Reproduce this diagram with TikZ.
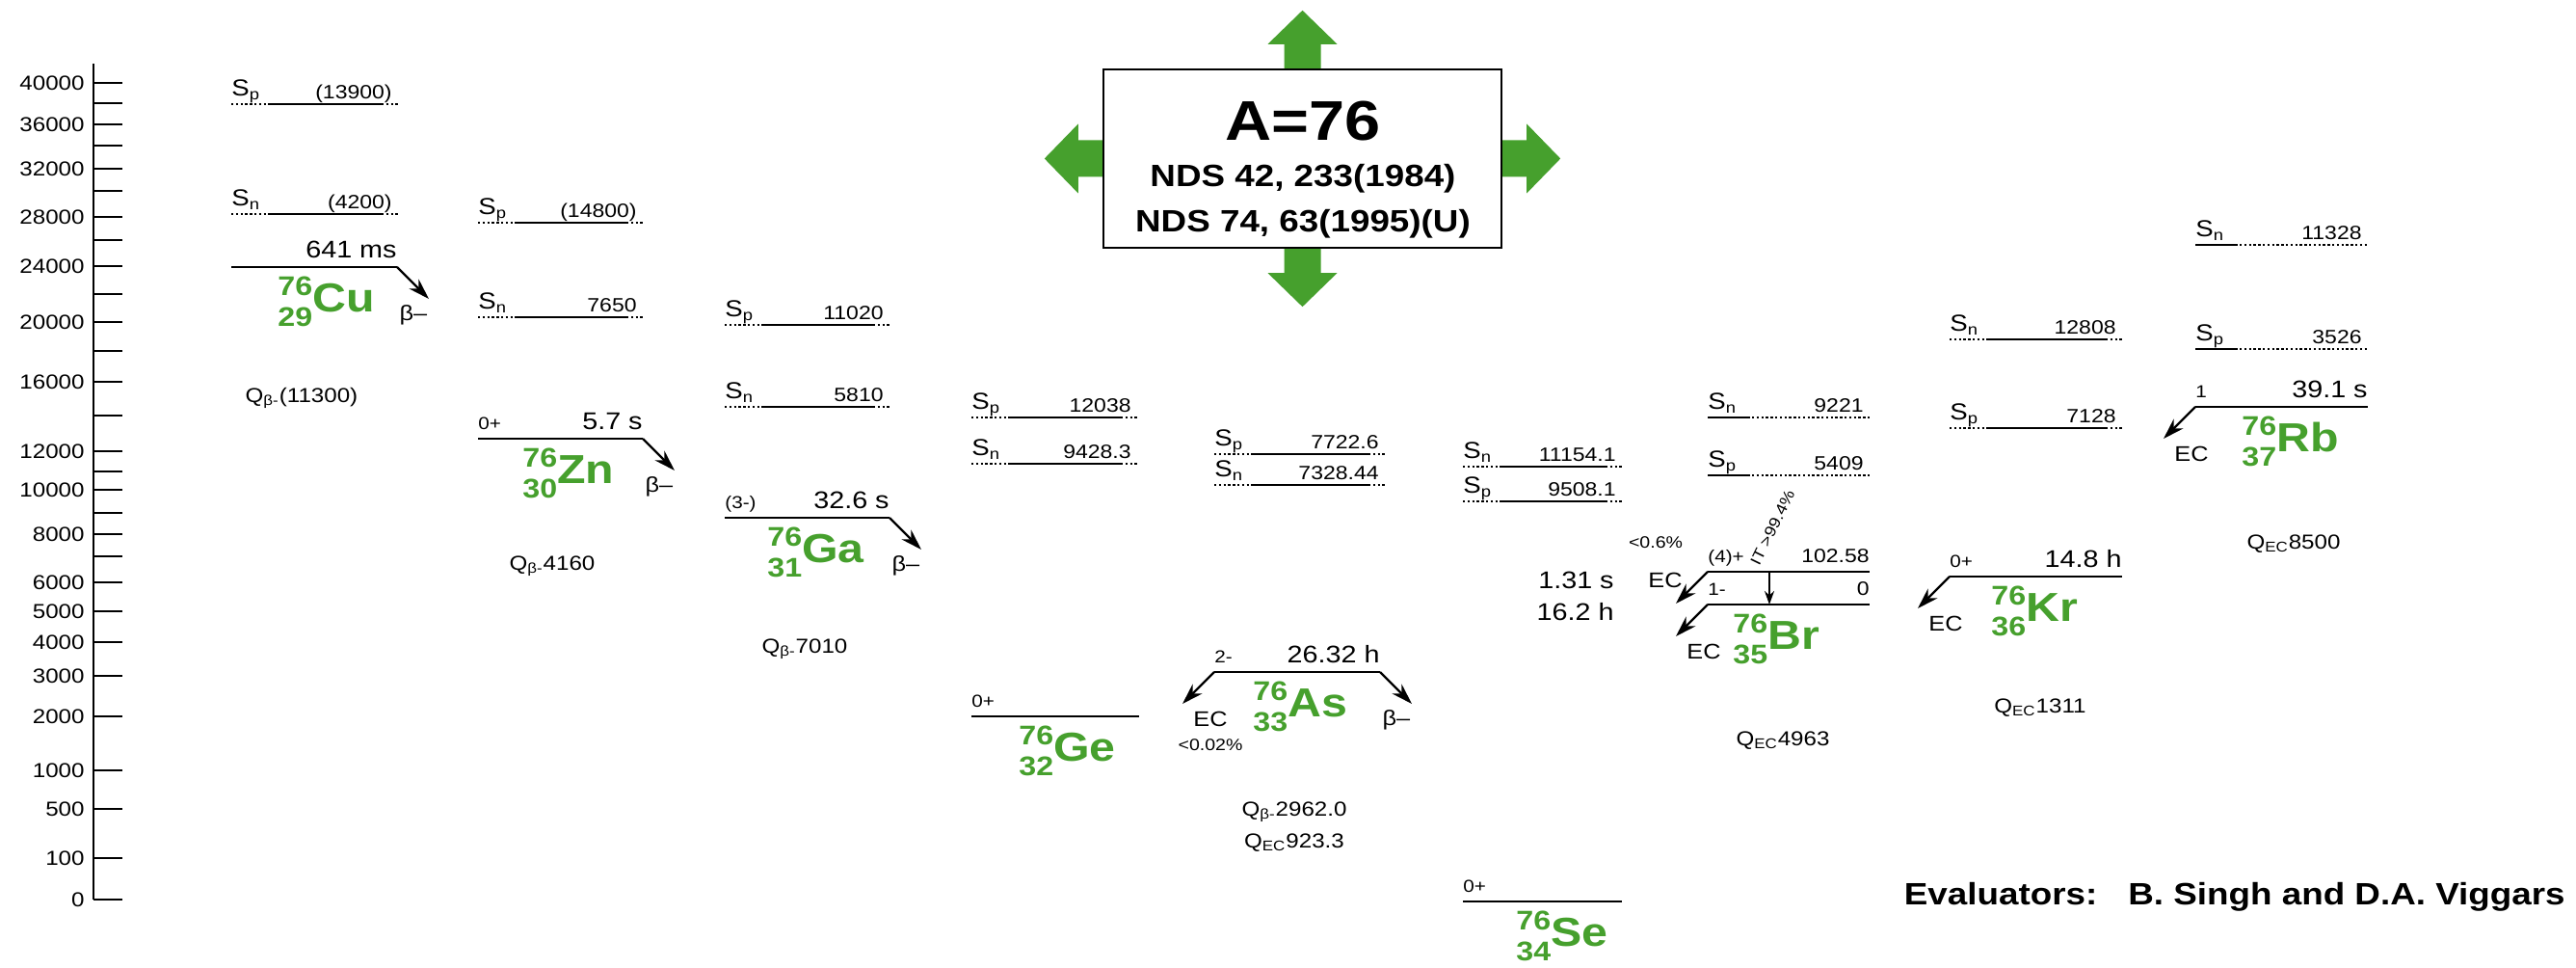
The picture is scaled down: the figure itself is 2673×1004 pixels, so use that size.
\documentclass[tikz,border=0pt]{standalone}
\usepackage{fontspec}
\setmainfont{Liberation Sans}[FakeStretch=1.15]
\usetikzlibrary{arrows.meta, calc}

\definecolor{nucgreen}{RGB}{70,160,45}

% nuclide symbol: mass and charge stacked in front of the element
\newcommand{\iso}[3]{{\fontsize{14}{16}\selectfont\begin{tabular}{@{}r@{}}#1\\#2\end{tabular}}{\fontsize{21}{21}\selectfont #3}}

% separation energy, dotted ends
\newcommand{\sepA}[6]{%
  \coordinate (#1-l) at (#2,#4);
  \coordinate (#1-r) at (#3,#4);
  \draw[sepdots] (#1-l) -- ($(#1-l)+(36,0)$);
  \draw[sepline] ($(#1-l)+(38,0)$) -- ($(#1-r)+(-17,0)$);
  \draw[sepdots] ($(#1-r)+(-17,0)$) -- (#1-r);
  \node[slab] (#1-s) at ($(#1-l)+(0,-8)$) {S\textsubscript{#5}};
  \node[sval] (#1-v) at ($(#1-r)+(-6,-5)$) {#6};}
% separation energy, dotted after the label
\newcommand{\sepB}[6]{%
  \coordinate (#1-l) at (#2,#4);
  \coordinate (#1-r) at (#3,#4);
  \draw[sepline] (#1-l) -- ($(#1-l)+(44,0)$);
  \draw[sepdots] ($(#1-l)+(46,0)$) -- (#1-r);
  \node[slab] (#1-s) at ($(#1-l)+(0,-8)$) {S\textsubscript{#5}};
  \node[sval] (#1-v) at ($(#1-r)+(-6,-5)$) {#6};}
% level with spin and half-life
\newcommand{\nuclev}[6]{%
  \coordinate (#1-l) at (#2,#4);
  \coordinate (#1-r) at (#3,#4);
  \draw[lev] (#1-l) -- (#1-r);
  \node[spin] (#1-j) at ($(#1-l)+(0,-9)$) {#5};
  \node[hlife] (#1-t) at ($(#1-r)+(0,-9)$) {#6};}

\tikzset{
  lev/.style={line width=1.3pt},
  sepline/.style={line width=1.1pt},
  sepdots/.style={line width=1.1pt, dash pattern=on 1.2pt off 1.2pt},
  decay/.style={line width=1.1pt, -{Stealth[length=11pt,width=7pt]}},
  axisl/.style={line width=1pt},
  slab/.style={inner sep=0pt, anchor=base west, font=\fontsize{12}{12}\selectfont},
  sval/.style={inner sep=0pt, anchor=base east, font=\fontsize{10}{10}\selectfont},
  spin/.style={inner sep=0pt, anchor=base west, font=\fontsize{9}{9}\selectfont},
  hlife/.style={inner sep=0pt, anchor=base east, font=\fontsize{12.5}{12.5}\selectfont},
  isolab/.style={inner sep=0pt, anchor=north west, text=nucgreen, font=\bfseries},
  mode/.style={inner sep=0pt, font=\fontsize{11}{11}\selectfont},
  pct/.style={inner sep=0pt, font=\fontsize{8.5}{8.5}\selectfont},
  qval/.style={inner sep=0pt, font=\fontsize{10.5}{10.5}\selectfont},
  axlab/.style={inner sep=0pt, anchor=east, font=\fontsize{10.5}{10.5}\selectfont},
}

\begin{document}
\begin{tikzpicture}[x=0.5pt, y=-0.5pt]
\useasboundingbox (0,0) rectangle (2673,1004);
\fill[white] (0,0) rectangle (2673,1004);

% energy axis
\draw[axisl] (97,66) -- (97,933);
\foreach \yy/\lab in {86/40000,129/36000,175/32000,225/28000,276/24000,334/20000,396/16000,468/12000,508/10000,554/8000,604/6000,634/5000,666/4000,701/3000,743/2000,799/1000,839/500,890/100,933/0}{
  \draw[axisl] (97,\yy) -- (127,\yy);
  \node[axlab] (ax-\lab) at (88,\yy) {\lab};
}
\foreach \yy in {107,151,198,249,305,364,431,489,532,577}
  \draw[axisl] (97,\yy) -- (127,\yy);

% title box
\node[draw, line width=1.2pt, minimum width=206.5pt, minimum height=92.5pt, inner sep=0pt] (title) at (1351.5,164.5) {};
\node[font=\bfseries\fontsize{29}{29}\selectfont] (title-a) at (1352,126) {A=76};
\node[font=\bfseries\fontsize{16}{16}\selectfont] (title-r1) at (1352,185) {NDS 42, 233(1984)};
\node[font=\bfseries\fontsize{16}{16}\selectfont] (title-r2) at (1352,232) {NDS 74, 63(1995)(U)};
\foreach \side/\ang in {north/90,south/-90,east/0,west/180}
  \fill[nucgreen, shift={(title.\side)}, rotate=\ang] (0,-19) -- (25,-19) -- (25,-36) -- (60,0) -- (25,36) -- (25,19) -- (0,19) -- cycle;

% 76Cu
\sepA{cusp}{240}{413}{108}{p}{(13900)}
\sepA{cusn}{240}{413}{222}{n}{(4200)}
\coordinate (cu-l) at (240,277);
\coordinate (cu-r) at (412,277);
\draw[lev] (cu-l) -- (cu-r);
\node[hlife] (cu-t) at ($(cu-r)+(0,-9)$) {641 ms};
\coordinate (cu-b) at ($(cu-r)+(33,33)$);
\draw[decay] (cu-r) -- (cu-b);
\node[mode] (cu-m) at ($(cu-r)+(17,50)$) {β–};
\node[isolab] (cu-n) at ($(cu-l)+(48,7)$) {\iso{76}{29}{Cu}};
\node[qval] (cu-q) at (313,413) {Q\textsubscript{β-}(11300)};

% 76Zn
\sepA{znsp}{496}{667}{231}{p}{(14800)}
\sepA{znsn}{496}{667}{329}{n}{7650}
\nuclev{zn}{496}{667}{455}{0+}{5.7 s}
\coordinate (zn-b) at ($(zn-r)+(33,33)$);
\draw[decay] (zn-r) -- (zn-b);
\node[mode] (zn-m) at ($(zn-r)+(17,50)$) {β–};
\node[isolab] (zn-n) at ($(zn-l)+(46,7)$) {\iso{76}{30}{Zn}};
\node[qval] (zn-q) at (573,587) {Q\textsubscript{β-}4160};

% 76Ga
\sepA{gasp}{752}{923}{337}{p}{11020}
\sepA{gasn}{752}{923}{422}{n}{5810}
\nuclev{ga}{752}{923}{537}{(3-)}{32.6 s}
\coordinate (ga-b) at ($(ga-r)+(33,33)$);
\draw[decay] (ga-r) -- (ga-b);
\node[mode] (ga-m) at ($(ga-r)+(17,50)$) {β–};
\node[isolab] (ga-n) at ($(ga-l)+(44,7)$) {\iso{76}{31}{Ga}};
\node[qval] (ga-q) at (835,673) {Q\textsubscript{β-}7010};

% 76Ge
\sepA{gesp}{1008}{1180}{433}{p}{12038}
\sepA{gesn}{1008}{1180}{481}{n}{9428.3}
\coordinate (ge-l) at (1008,743);
\coordinate (ge-r) at (1182,743);
\draw[lev] (ge-l) -- (ge-r);
\node[spin] (ge-j) at ($(ge-l)+(0,-9)$) {0+};
\node[isolab] (ge-n) at ($(ge-l)+(49,7)$) {\iso{76}{32}{Ge}};

% 76As
\sepA{assp}{1260}{1437}{471}{p}{7722.6}
\sepA{assn}{1260}{1437}{503}{n}{7328.44}
\nuclev{as}{1260}{1432}{697}{2-}{26.32 h}
\coordinate (as-e) at ($(as-l)+(-33,33)$);
\coordinate (as-b) at ($(as-r)+(33,33)$);
\draw[decay] (as-l) -- (as-e);
\draw[decay] (as-r) -- (as-b);
\node[mode] (as-ec) at ($(as-l)+(-4,49)$) {EC};
\node[pct] (as-p) at ($(as-l)+(-4,76)$) {<0.02\%};
\node[mode] (as-m) at ($(as-r)+(17,50)$) {β–};
\node[isolab] (as-n) at ($(as-l)+(40,7)$) {\iso{76}{33}{As}};
\node[qval] (as-q1) at (1343,842) {Q\textsubscript{β-}2962.0};
\node[qval] (as-q2) at (1343,874) {Q\textsubscript{EC}923.3};

% 76Se
\sepA{sesn}{1518}{1683}{484}{n}{11154.1}
\sepA{sesp}{1518}{1683}{520}{p}{9508.1}
\coordinate (se-l) at (1518,935);
\coordinate (se-r) at (1683,935);
\draw[lev] (se-l) -- (se-r);
\node[spin] (se-j) at ($(se-l)+(0,-9)$) {0+};
\node[isolab] (se-n) at ($(se-l)+(55,7)$) {\iso{76}{34}{Se}};

% 76Br
\sepB{brsn}{1772}{1940}{433}{n}{9221}
\sepB{brsp}{1772}{1940}{493}{p}{5409}
\nuclev{brm}{1772}{1940}{593}{(4)+}{\fontsize{10}{10}\selectfont 102.58}
\nuclev{br}{1772}{1940}{627}{1-}{\fontsize{10}{10}\selectfont 0}
\node[hlife] (brm-h) at (1675,611) {1.31 s};
\node[hlife] (br-h) at (1675,644) {16.2 h};
\coordinate (brm-e) at ($(brm-l)+(-33,33)$);
\coordinate (br-e) at ($(br-l)+(-33,33)$);
\draw[decay] (brm-l) -- (brm-e);
\draw[decay] (br-l) -- (br-e);
\node[pct] (brm-p) at (1718,563) {<0.6\%};
\node[mode] (brm-ec) at (1728,602) {EC};
\node[mode] (br-ec) at ($(br-l)+(-4,49)$) {EC};
\coordinate (brm-it) at (1836,593);
\coordinate (br-it) at (1836,627);
\draw[line width=1.1pt, -{Stealth[length=7pt,width=5pt]}] (brm-it) -- (br-it);
\node[pct, rotate=64, anchor=south west, font=\fontsize{8}{8}\selectfont] (brm-itl) at (1826,588) {IT >99.4\%};
\node[isolab] (br-n) at ($(br-l)+(26,7)$) {\iso{76}{35}{Br}};
\node[qval] (br-q) at (1850,768) {Q\textsubscript{EC}4963};

% 76Kr
\sepA{krsn}{2023}{2202}{352}{n}{12808}
\sepA{krsp}{2023}{2202}{444}{p}{7128}
\nuclev{kr}{2023}{2202}{598}{0+}{14.8 h}
\coordinate (kr-e) at ($(kr-l)+(-33,33)$);
\draw[decay] (kr-l) -- (kr-e);
\node[mode] (kr-ec) at ($(kr-l)+(-4,49)$) {EC};
\node[isolab] (kr-n) at ($(kr-l)+(43,7)$) {\iso{76}{36}{Kr}};
\node[qval] (kr-q) at (2117,734) {Q\textsubscript{EC}1311};

% 76Rb
\sepB{rbsn}{2278}{2457}{254}{n}{11328}
\sepB{rbsp}{2278}{2457}{362}{p}{3526}
\nuclev{rb}{2278}{2457}{422}{1}{39.1 s}
\coordinate (rb-e) at ($(rb-l)+(-33,33)$);
\draw[decay] (rb-l) -- (rb-e);
\node[mode] (rb-ec) at ($(rb-l)+(-4,49)$) {EC};
\node[isolab] (rb-n) at ($(rb-l)+(48,7)$) {\iso{76}{37}{Rb}};
\node[qval] (rb-q) at (2380,564) {Q\textsubscript{EC}8500};

\node[inner sep=0pt, anchor=east, font=\bfseries\fontsize{16}{16}\selectfont] (eval) at (2662,930) {Evaluators:\hspace{1em}B. Singh and D.A. Viggars};
\end{tikzpicture}
\end{document}
